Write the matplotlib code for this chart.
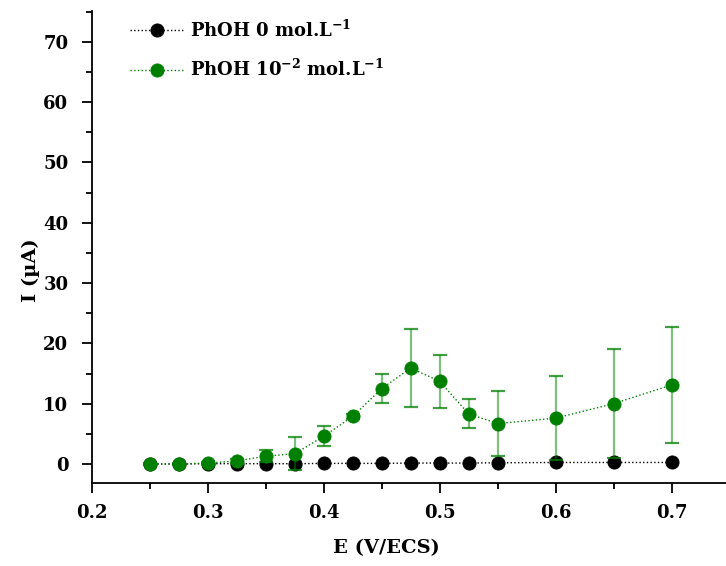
#!/usr/bin/env python3
"""
Current vs potential, with and without phenol
"""

import matplotlib
matplotlib.use("Agg")
from matplotlib import pyplot as plt
from matplotlib.ticker import MultipleLocator

# potential (V/ECS)
E_blank = [0.25, 0.275, 0.3, 0.325, 0.35, 0.375, 0.4, 0.425, 0.45, 0.475,
           0.5, 0.525, 0.55, 0.6, 0.65, 0.7]
I_blank = [0.0, 0.0, 0.05, 0.05, 0.05, 0.05, 0.1, 0.1, 0.1, 0.15,
           0.15, 0.15, 0.2, 0.25, 0.25, 0.25]

E_phoh = [0.25, 0.275, 0.3, 0.325, 0.35, 0.375, 0.4, 0.425, 0.45, 0.475,
          0.5, 0.525, 0.55, 0.6, 0.65, 0.7]
I_phoh = [0.0, 0.0, 0.15, 0.5, 1.3, 1.7, 4.6, 7.9, 12.5, 15.9,
          13.7, 8.3, 6.7, 7.6, 10.0, 13.1]
err_phoh = [0.2, 0.2, 0.2, 0.4, 1.0, 2.7, 1.7, 0.4, 2.35, 6.45,
            4.4, 2.4, 5.4, 7.0, 9.0, 9.55]

lbl_blank = r"PhOH 0 mol.L$^{\mathbf{-1}}$"
lbl_phoh = r"PhOH 10$^{\mathbf{-2}}$ mol.L$^{\mathbf{-1}}$"

plt.rcParams["font.family"] = "DejaVu Serif"
plt.rcParams["font.weight"] = "bold"
plt.rcParams["mathtext.fontset"] = "dejavuserif"
plt.rcParams["mathtext.default"] = "bf"

fig = plt.figure(figsize=(7.26, 5.66), dpi=100)
ax = fig.add_axes([0.1267, 0.1472, 0.8733, 0.8334])

green = "#008000"

ax.plot(E_blank, I_blank, ":", color="black", lw=1.0, marker="o", ms=9.5,
        mew=0.6, mec="black", mfc="black", label=lbl_blank, zorder=3)
eb = ax.errorbar(E_phoh, I_phoh, yerr=err_phoh, fmt="none", ecolor=green,
                 elinewidth=1.6, capsize=5, capthick=1.6, zorder=4)
eb[2][0].set_alpha(0.5)
for cap in eb[1]:
    cap.set_alpha(0.75)
ax.plot(E_phoh, I_phoh, ":", color=green, lw=1.0, marker="o", ms=9.5,
        mew=0.6, mec=green, mfc=green, label=lbl_phoh, zorder=5)

ax.set_xlim(0.2, 0.747)
ax.set_ylim(-3.1, 75.1)
ax.xaxis.set_major_locator(MultipleLocator(0.1))
ax.xaxis.set_minor_locator(MultipleLocator(0.05))
ax.yaxis.set_major_locator(MultipleLocator(10))
ax.yaxis.set_minor_locator(MultipleLocator(5))
ax.tick_params(which="major", direction="out", length=7, width=1.3, labelsize=13)
ax.tick_params(axis="x", which="major", pad=8)
ax.tick_params(axis="y", which="major", pad=10)
ax.tick_params(which="minor", direction="out", length=4, width=1.3)
for lab in ax.get_xticklabels() + ax.get_yticklabels():
    lab.set_fontweight("bold")

ax.spines["top"].set_visible(False)
ax.spines["right"].set_visible(False)
ax.spines["left"].set_linewidth(1.3)
ax.spines["bottom"].set_linewidth(1.3)

ax.set_xlabel("E (V/ECS)", fontsize=14, fontweight="bold")
ax.set_ylabel("I (µA)", fontsize=14, fontweight="bold")
ax.xaxis.set_label_coords(0.464, -0.12)
ax.yaxis.set_label_coords(-0.082, 0.45)

ax.legend(loc="upper left", bbox_to_anchor=(0.06, 0.982), frameon=False,
          fontsize=13, handlelength=3.0, handletextpad=0.3, labelspacing=1.0,
          borderpad=0, borderaxespad=0)

fig.savefig("out.png", dpi=100)
